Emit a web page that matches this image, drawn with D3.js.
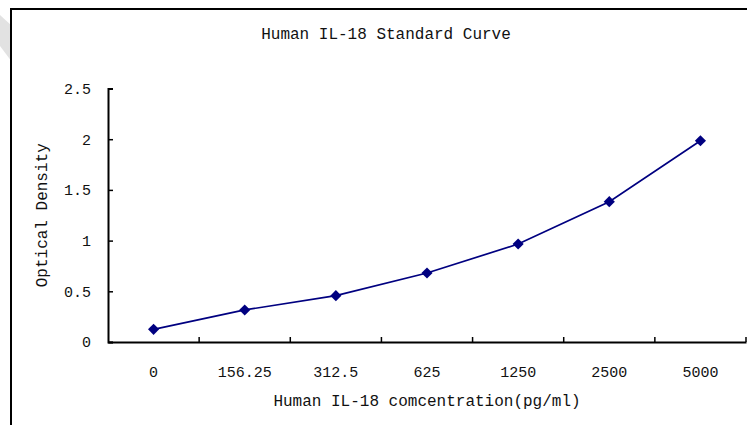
<!DOCTYPE html>
<html>
<head>
<meta charset="utf-8">
<script src="https://cdn.jsdelivr.net/npm/d3@7"></script>
<style>
  body { margin: 0; background: #fff; }
  svg { display: block; }
  text { font-family: "Liberation Mono", "DejaVu Sans Mono", monospace; fill: #111; }
</style>
</head>
<body>
<div id="chart"></div>
<script>
// concentrations (pg/ml) and optical densities
const concentrations = ["0", "156.25", "312.5", "625", "1250", "2500", "5000"];
const opticalDensity = [0.125, 0.316, 0.457, 0.680, 0.966, 1.384, 1.985];
const yTicks = [0, 0.5, 1, 1.5, 2, 2.5];

const width = 747, height = 425;
const lineColor = "#000080";

const svg = d3.select("#chart")
    .append("svg")
    .attr("width", width)
    .attr("height", height);

// faint watermark stripe peeking out at the top-left corner
svg.append("polygon")
    .attr("points", "0,15 12,26 12,62 0,46")
    .attr("fill", "#e2e2e2");

// chart frame (only left and top edges visible in the crop)
svg.append("rect")
    .attr("x", 11)
    .attr("y", 9)
    .attr("width", 800)
    .attr("height", 500)
    .attr("fill", "#fff")
    .attr("stroke", "#000")
    .attr("stroke-width", 2);

const x = d3.scaleBand()
    .domain(concentrations)
    .range([108, 746])
    .padding(0);

const y = d3.scaleLinear()
    .domain([0, 2.5])
    .range([342, 88.5]);

// Title
svg.append("text")
    .attr("x", 386)
    .attr("y", 39)
    .attr("text-anchor", "middle")
    .attr("font-size", "16px")
    .text("Human IL-18 Standard Curve");

// Y axis
const yAxis = svg.append("g")
    .attr("transform", `translate(${x.range()[0]},0)`)
    .call(d3.axisLeft(y).tickValues(yTicks).tickSize(-5).tickPadding(17).tickFormat(d3.format("~g")));
yAxis.select(".domain").attr("stroke", "#000").attr("stroke-width", 2);
yAxis.selectAll(".tick line").attr("stroke", "#000").attr("stroke-width", 1.5);
yAxis.selectAll(".tick text")
    .attr("font-size", "15px")
    .attr("fill", "#111");

// X axis: labels centred in bands, ticks on the band edges
const xAxis = svg.append("g")
    .attr("transform", `translate(0,${y(0)})`)
    .call(d3.axisBottom(x).tickSize(0).tickPadding(24));
xAxis.select(".domain").attr("stroke", "#000").attr("stroke-width", 2);
xAxis.selectAll(".tick text")
    .attr("font-size", "15px")
    .attr("fill", "#111");

const edges = concentrations.slice(1).map(c => x(c)).concat([x.range()[1]]);
svg.append("g")
    .selectAll("line")
    .data(edges)
    .enter()
    .append("line")
    .attr("x1", d => d)
    .attr("x2", d => d)
    .attr("y1", y(0))
    .attr("y2", y(0) - 5)
    .attr("stroke", "#000")
    .attr("stroke-width", 1.5);

// Axis titles
svg.append("text")
    .attr("x", 427)
    .attr("y", 406)
    .attr("text-anchor", "middle")
    .attr("font-size", "16px")
    .text("Human IL-18 comcentration(pg/ml)");

svg.append("text")
    .attr("transform", `translate(47,${(y(0) + y(2.5)) / 2}) rotate(-90)`)
    .attr("text-anchor", "middle")
    .attr("font-size", "16px")
    .text("Optical Density");

// Curve
const points = concentrations.map((c, i) => ({ label: c, value: opticalDensity[i] }));

svg.append("path")
    .datum(points)
    .attr("fill", "none")
    .attr("stroke", lineColor)
    .attr("stroke-width", 1.7)
    .attr("d", d3.line()
        .x(d => x(d.label) + x.bandwidth() / 2)
        .y(d => y(d.value)));

svg.selectAll(".marker")
    .data(points)
    .enter()
    .append("path")
    .attr("class", "marker")
    .attr("d", d3.symbol().type(d3.symbolSquare).size(62))
    .attr("transform", d => `translate(${x(d.label) + x.bandwidth() / 2},${y(d.value)}) rotate(45)`)
    .attr("fill", lineColor);
</script>
</body>
</html>
